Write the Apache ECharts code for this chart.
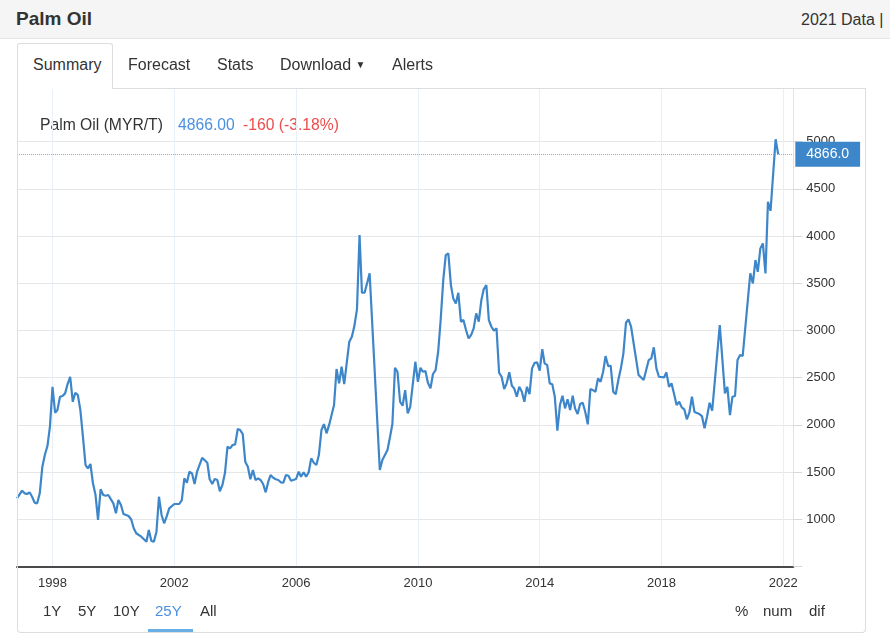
<!DOCTYPE html>
<html>
<head>
<meta charset="utf-8">
<script src="https://cdn.jsdelivr.net/npm/echarts@6/dist/echarts.min.js"></script>
<style>
  html, body { margin:0; padding:0; background:#fff; }
  body { width:890px; height:642px; position:relative; overflow:hidden; font-family:'Liberation Sans', Arial, sans-serif; color:#333; }
  #chart { position:absolute; left:0; top:0; width:890px; height:642px; z-index:0; }
  .ov { position:absolute; z-index:2; pointer-events:none; white-space:nowrap; }
</style>
</head>
<body>
<div id="chart"></div>

<div class="ov" style="left:0;top:0;width:890px;height:38px;background:#f5f5f5;border-bottom:1px solid #e6e6e6;"></div>
<div class="ov" style="left:16px;top:8px;font-weight:bold;font-size:19px;line-height:22px;color:#333;">Palm Oil</div>
<div class="ov" style="left:801px;top:10px;font-size:16px;line-height:20px;color:#333;">2021 Data |</div>

<div class="ov" style="left:17px;top:43px;width:94px;height:45px;border:1px solid #ddd;border-bottom:none;background:#fff;border-radius:3px 3px 0 0;"></div>
<div class="ov" style="left:112px;top:88px;width:754px;height:0;border-top:1px solid #ddd;"></div>
<div class="ov" style="left:33px;top:55px;font-size:16px;line-height:20px;">Summary</div>
<div class="ov" style="left:128px;top:55px;font-size:16px;line-height:20px;">Forecast</div>
<div class="ov" style="left:217px;top:55px;font-size:16px;line-height:20px;">Stats</div>
<div class="ov" style="left:280px;top:55px;font-size:16px;line-height:20px;">Download <span style="font-size:10px;position:relative;top:-2px;">&#9660;</span></div>
<div class="ov" style="left:392px;top:55px;font-size:16px;line-height:20px;">Alerts</div>

<div class="ov" style="left:17px;top:88px;width:847px;height:544px;border:1px solid #ddd;border-top:none;border-radius:0 0 4px 4px;"></div>

<div class="ov" style="left:43px;top:602px;font-size:15px;line-height:18px;">1Y</div>
<div class="ov" style="left:78px;top:602px;font-size:15px;line-height:18px;">5Y</div>
<div class="ov" style="left:113px;top:602px;font-size:15px;line-height:18px;">10Y</div>
<div class="ov" style="left:155px;top:602px;font-size:15px;line-height:18px;color:#4a90e2;">25Y</div>
<div class="ov" style="left:148px;top:629px;width:45px;height:3px;background:#6aaee8;"></div>
<div class="ov" style="left:200px;top:602px;font-size:15px;line-height:18px;">All</div>
<div class="ov" style="left:735px;top:602px;font-size:15px;line-height:18px;">%</div>
<div class="ov" style="left:763px;top:602px;font-size:15px;line-height:18px;">num</div>
<div class="ov" style="left:809px;top:602px;font-size:15px;line-height:18px;">dif</div>

<script>
const seriesName = 'Palm Oil (MYR/T)';
const dates = [
 '1996-11','1997-01','1997-02','1997-03','1997-04','1997-05','1997-06','1997-07','1997-08','1997-09','1997-10','1997-11','1997-12',
 '1998-01','1998-02','1998-03','1998-04','1998-05','1998-06','1998-07','1998-08','1998-09','1998-10','1998-11','1998-12',
 '1999-01','1999-02','1999-03','1999-04','1999-05','1999-06','1999-07','1999-08','1999-09','1999-10','1999-11',
 '2000-01','2000-02','2000-03','2000-04','2000-05','2000-06','2000-07','2000-08','2000-09','2000-10','2000-12',
 '2001-02','2001-03','2001-04','2001-05','2001-06','2001-07','2001-08','2001-09','2001-10','2001-11',
 '2002-01','2002-03','2002-04','2002-05','2002-06','2002-07','2002-08','2002-09','2002-10','2002-12',
 '2003-02','2003-03','2003-04','2003-05','2003-06','2003-07','2003-08','2003-09','2003-10','2003-11','2003-12',
 '2004-01','2004-02','2004-03','2004-04','2004-05','2004-06','2004-07','2004-08','2004-09','2004-10','2004-11','2004-12',
 '2005-01','2005-02','2005-03','2005-04','2005-05','2005-06','2005-07','2005-08','2005-09','2005-10','2005-11',
 '2006-01','2006-02','2006-03','2006-04','2006-05','2006-06','2006-07','2006-08','2006-09','2006-10','2006-11','2006-12',
 '2007-01','2007-02','2007-04','2007-05','2007-06','2007-07','2007-08','2007-10','2007-11','2007-12',
 '2008-01','2008-02','2008-03','2008-04','2008-05','2008-06','2008-10','2008-11',
 '2009-01','2009-02','2009-03','2009-04','2009-05','2009-06','2009-07','2009-08','2009-09','2009-10','2009-12',
 '2010-01','2010-02','2010-03','2010-04','2010-05','2010-06','2010-07','2010-08','2010-09','2010-10','2010-11','2010-12',
 '2011-01','2011-02','2011-03','2011-04','2011-05','2011-06','2011-07','2011-08','2011-09','2011-10','2011-11','2011-12',
 '2012-01','2012-02','2012-03','2012-04','2012-05','2012-06','2012-07','2012-08','2012-09','2012-10','2012-11','2012-12',
 '2013-01','2013-02','2013-03','2013-04','2013-05','2013-06','2013-07','2013-08','2013-09','2013-10','2013-11','2013-12',
 '2014-01','2014-02','2014-03','2014-04','2014-05','2014-06','2014-07','2014-08','2014-09','2014-10','2014-11','2014-12',
 '2015-01','2015-02','2015-03','2015-04','2015-05','2015-06','2015-07','2015-08','2015-09','2015-10','2015-11','2015-12',
 '2016-01','2016-02','2016-03','2016-04','2016-05','2016-06','2016-07','2016-08','2016-09','2016-10','2016-11','2016-12',
 '2017-01','2017-04','2017-06','2017-08','2017-09','2017-10','2017-11','2017-12',
 '2018-02','2018-03','2018-04','2018-05','2018-06','2018-07','2018-08','2018-09','2018-10','2018-11','2018-12',
 '2019-01','2019-02','2019-04','2019-05','2019-06','2019-07','2019-08','2019-09','2019-12',
 '2020-02','2020-03','2020-04','2020-05','2020-06','2020-07','2020-08','2020-09','2020-12',
 '2021-01','2021-02','2021-03','2021-04','2021-05','2021-06','2021-07','2021-08','2021-10','2021-11'
];
const prices = [
 1222,1303,1275,1268,1286,1239,1176,1169,1275,1557,1681,1776,1981,
 2404,2129,2157,2298,2306,2334,2433,2510,2245,2341,2316,2157,
 1875,1575,1540,1586,1381,1257,993,1318,1257,1250,1257,
 1169,1064,1204,1151,1056,1046,1035,1000,905,852,816,
 763,887,770,763,869,1239,1046,958,1028,1116,
 1162,1162,1204,1434,1388,1504,1487,1374,1504,1652,
 1599,1424,1374,1427,1416,1297,1363,1493,1769,1752,1787,
 1794,1956,1946,1903,1610,1557,1424,1522,1416,1434,1416,1374,
 1286,1398,1469,1441,1424,1416,1392,1388,1469,1462,1409,
 1427,1504,1451,1498,1451,1498,1646,1599,1575,1681,1946,2009,
 1911,2000,2210,2592,2440,2616,2433,2881,2934,3047,
 3224,4011,3400,3400,3499,3605,1522,1628,
 1734,1875,2009,2605,2563,2245,2203,2369,2123,2192,2669,
 2457,2605,2563,2570,2447,2387,2539,2581,2775,3111,3534,3799,
 3817,3481,3340,3287,3400,3093,3111,3005,2917,2952,3023,3182,
 3093,3322,3439,3481,3111,3040,2997,3023,2553,2510,2380,2440,
 2557,2415,2387,2298,2404,2351,2245,2404,2327,2599,2658,2662,
 2574,2803,2652,2634,2440,2430,2298,1938,2210,2309,2175,2271,
 2157,2309,2175,2115,2221,2235,2140,2006,2380,2369,2351,2493,
 2457,2563,2729,2623,2627,2351,2324,2475,2599,2758,3082,3118,
 3040,2528,2475,2687,2705,2822,2599,2510,
 2503,2557,2404,2440,2327,2210,2245,2186,2165,2059,2129,
 2298,2136,2115,2094,1964,2087,2235,2150,3058,
 2334,2404,2104,2298,2306,2687,2740,2730,3605,
 3499,3746,3622,3870,3923,3605,4363,4268,5026,4866
];
const yearLabels = [1998, 2002, 2006, 2010, 2014, 2018, 2022];
const yTickValues = [500, 1000, 1500, 2000, 2500, 3000, 3500, 4000, 4500, 5000];
const yLabelValues = [1000, 1500, 2000, 2500, 3000, 3500, 4000, 4500, 5000];
const xRange = ['1996-11', '2022-05'];

function ts(s) { const p = s.split('-'); return Date.UTC(+p[0], +p[1] - 1, 1); }
const seriesData = dates.map((d, i) => [ts(d), prices[i]]);
const yearTs = yearLabels.map(y => Date.UTC(y, 0, 1));

const last = prices[prices.length - 1];
const prev = prices[prices.length - 2];
const chg = last - prev;
const pct = chg / prev * 100;

const FONT = "'Liberation Sans', Arial, sans-serif";
const chart = echarts.init(document.getElementById('chart'), null, { renderer: 'canvas' });
chart.setOption({
  animation: false,
  backgroundColor: 'transparent',
  grid: { left: 17, right: 96.7, top: 88, bottom: 75.5, containLabel: false },
  graphic: [
    { type: 'text', left: 40, top: 118, style: { text: seriesName, fill: '#333', font: '15.7px ' + FONT } },
    { type: 'text', left: 178, top: 118, style: { text: last.toFixed(2), fill: '#4a90e2', font: '15.7px ' + FONT } },
    { type: 'text', left: 243, top: 118, style: { text: chg + ' (' + pct.toFixed(2) + '%)', fill: '#ee4b4b', font: '15.7px ' + FONT } }
  ],
  xAxis: {
    type: 'value',
    min: ts(xRange[0]),
    max: ts(xRange[1]),
    axisLine: { show: true, onZero: false, lineStyle: { color: '#4a4a4a', width: 2 } },
    axisTick: { show: false, customValues: yearTs },
    axisLabel: {
      customValues: yearTs,
      margin: 10,
      color: '#333',
      fontSize: 13,
      fontFamily: FONT,
      formatter: v => String(new Date(v).getUTCFullYear())
    },
    splitLine: { show: true, lineStyle: { color: '#e8eff6', width: 1 } }
  },
  yAxis: {
    type: 'value',
    position: 'right',
    min: 500,
    max: 5569,
    axisLine: { show: true, lineStyle: { color: '#e3e3e3', width: 1 } },
    axisTick: { show: true, length: 9, customValues: yTickValues, lineStyle: { color: '#d8d8d8' } },
    axisLabel: {
      customValues: yLabelValues,
      margin: 13,
      color: '#333',
      fontSize: 13,
      fontFamily: FONT,
      formatter: v => String(v)
    },
    splitLine: { show: true, lineStyle: { color: '#e6e6e6', width: 1 } }
  },
  series: [{
    name: seriesName,
    type: 'line',
    data: seriesData,
    showSymbol: false,
    symbol: 'none',
    z: 3,
    lineStyle: { color: '#3d86c9', width: 2.2 },
    itemStyle: { color: '#3d86c9' },
    markLine: {
      silent: true,
      symbol: ['none', 'none'],
      animation: false,
      lineStyle: { type: 'dotted', color: '#7fb0e0', width: 1 },
      label: {
        show: true,
        position: 'end',
        distance: 2,
        formatter: () => last.toFixed(1),
        color: '#fff',
        backgroundColor: '#3d86c9',
        fontSize: 14,
        fontFamily: FONT,
        lineHeight: 15,
        padding: [5, 11, 5, 11]
      },
      data: [{ yAxis: last }]
    }
  }]
});
</script>
</body>
</html>
